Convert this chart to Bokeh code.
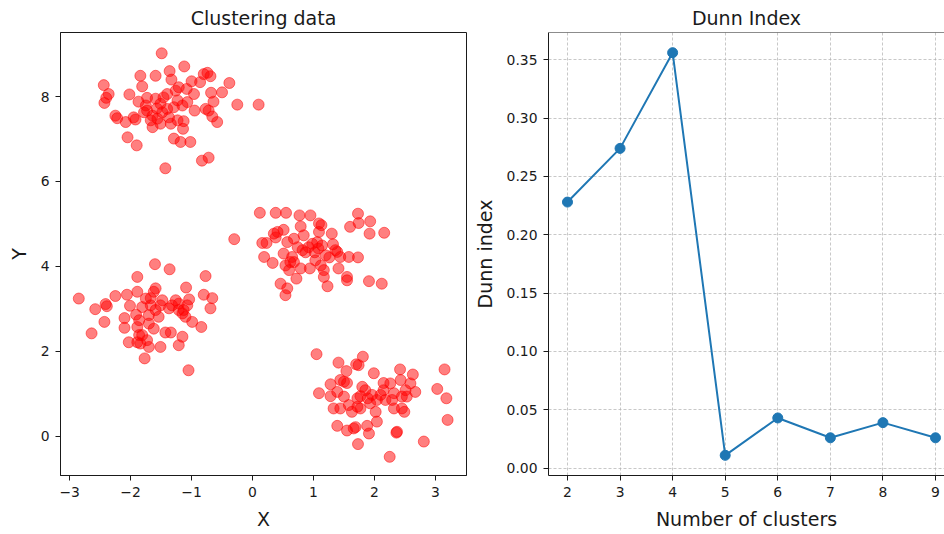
from bokeh.plotting import figure
from bokeh.layouts import row
from bokeh.models import Range1d, FixedTicker, NumeralTickFormatter, Span
from bokeh.embed import file_html
from bokeh.resources import INLINE

# --- scatter data: four blobs ---
blob1_x = [-1.49, -1.84, -1.59, -1.36, -1.33, -2.44, -2.36, -2.40, -2.43, -2.02,
           -1.81, -1.73, -1.59, -1.40, -1.26, -2.25, -2.22, -2.08, -1.95, -1.92,
           -1.75, -1.73, -1.64, -1.67, -1.64, -1.51, -1.48, -1.40, -1.37, -1.34,
           -1.51, -1.78, -1.56, -1.29, -1.18, -2.05, -1.90, -1.43, -1.23, -1.23,
           -1.12, -0.80, -0.74, -0.69, -0.38, -0.25, -0.50, -0.68, -0.64, -0.86,
           -1.00, -1.08, -0.96, -1.07, -1.29, -1.15, -0.95, -0.77, -0.72, -0.66,
           -0.58, -1.13, -1.14, -1.02, -0.83, -0.72, 0.10, -1.21, -1.87, -1.57,
           -1.46]
blob1_y = [9.02, 8.49, 8.49, 8.60, 8.40, 8.27, 8.06, 7.97, 7.85, 8.05,
           8.24, 7.97, 7.95, 8.06, 8.14, 7.55, 7.49, 7.40, 7.51, 7.46,
           7.79, 7.67, 7.55, 7.44, 7.28, 7.83, 7.63, 7.71, 7.51, 7.36,
           7.36, 7.63, 7.48, 7.01, 6.93, 7.04, 6.85, 6.31, 7.44, 7.91,
           8.71, 8.53, 8.56, 8.48, 8.32, 7.81, 8.10, 8.09, 7.88, 8.34,
           8.36, 8.18, 8.06, 7.87, 7.75, 7.79, 7.67, 7.71, 7.67, 7.53,
           7.40, 7.42, 7.24, 6.93, 6.49, 6.56, 7.81, 8.22, 7.88, 7.72,
           7.98]

blob2_x = [0.12, 0.38, 0.55, 0.77, 0.95, -0.30, 0.16, 0.23, 0.35, 0.41,
           0.51, 0.38, 0.79, 0.84, 0.68, 0.57, 0.98, 0.19, 0.33, 0.51,
           0.65, 0.68, 0.62, 0.82, 0.92, 0.54, 0.60, 0.79, 0.94, 0.72,
           0.46, 0.57, 0.54, 1.73, 1.74, 1.93, 1.60, 1.92, 2.16, 1.09,
           1.13, 1.30, 1.09, 1.06, 1.14, 1.32, 1.36, 1.39, 1.26, 1.44,
           1.58, 1.73, 1.03, 1.12, 1.17, 1.41, 1.17, 1.55, 1.55, 1.23,
           1.91, 2.12, 0.87, 0.74, 1.02, 1.08, 1.20]
blob2_y = [5.26, 5.26, 5.26, 5.20, 5.20, 4.64, 4.55, 4.55, 4.77, 4.81,
           4.86, 4.68, 4.94, 4.73, 4.65, 4.57, 4.53, 4.22, 4.08, 4.30,
           4.22, 4.10, 4.10, 4.38, 4.45, 4.02, 3.91, 3.95, 3.95, 3.71,
           3.59, 3.48, 3.32, 5.24, 5.02, 5.06, 4.93, 4.77, 4.79, 5.01,
           4.97, 4.77, 4.81, 4.57, 4.49, 4.52, 4.38, 4.34, 4.21, 4.22,
           4.22, 4.21, 4.14, 4.02, 3.91, 3.95, 3.75, 3.75, 3.67, 3.53,
           3.65, 3.59, 4.33, 4.45, 4.33, 4.42, 4.26]

blob3_x = [-1.89, -2.85, -2.41, -2.39, -2.25, -2.06, -1.89, -2.58, -2.43, -2.64,
           -2.01, -2.10, -2.10, -1.91, -1.89, -1.86, -2.03, -1.89, -1.77, -1.60,
           -1.36, -0.77, -1.09, -1.59, -1.62, -1.75, -1.48, -1.32, -1.21, -1.04,
           -1.07, -0.80, -0.66, -0.69, -1.81, -1.67, -1.59, -1.70, -1.54, -1.37,
           -1.21, -1.15, -1.10, -0.99, -0.84, -1.86, -1.70, -1.62, -1.43, -1.34,
           -1.15, -1.21, -1.81, -1.73, -1.84, -1.70, -1.51, -1.05, -1.51, -1.26,
           -1.13, -1.67]
blob3_y = [3.75, 3.24, 3.11, 3.06, 3.30, 3.33, 3.40, 2.99, 2.69, 2.42,
           3.07, 2.78, 2.55, 2.86, 2.57, 2.38, 2.21, 2.21, 1.83, 4.05,
           3.93, 3.77, 3.50, 3.48, 3.40, 3.24, 3.20, 3.08, 3.12, 3.22,
           3.08, 3.33, 3.25, 3.01, 3.04, 3.08, 2.97, 2.85, 2.81, 3.01,
           2.97, 2.89, 2.81, 2.69, 2.57, 2.73, 2.65, 2.53, 2.44, 2.44,
           2.34, 2.14, 2.38, 2.26, 2.18, 2.10, 2.10, 1.55, 3.08, 3.20,
           2.97, 3.25]

blob4_x = [1.05, 1.41, 1.81, 1.70, 1.74, 1.54, 1.99, 1.28, 1.44, 1.50,
           1.55, 1.09, 1.28, 1.39, 1.50, 1.80, 1.85, 1.96, 1.72, 1.58,
           1.33, 1.44, 1.63, 1.72, 1.77, 1.93, 2.02, 2.04, 1.39, 1.55,
           1.66, 1.69, 1.88, 1.91, 1.73, 2.42, 2.63, 3.15, 3.03, 3.18,
           3.20, 2.15, 2.26, 2.43, 2.59, 2.51, 2.67, 2.32, 2.15, 2.04,
           2.18, 2.29, 2.45, 2.53, 2.32, 2.45, 2.49, 2.37, 2.36, 2.81,
           2.25, 2.10, 1.89, 1.77]
blob4_y = [1.93, 1.73, 1.87, 1.69, 1.67, 1.53, 1.48, 1.22, 1.32, 1.28,
           1.25, 1.01, 0.94, 1.04, 0.93, 1.16, 1.08, 0.97, 0.89, 0.73,
           0.65, 0.65, 0.57, 0.69, 0.65, 0.77, 0.57, 0.34, 0.24, 0.13,
           0.18, 0.21, 0.24, 0.06, -0.19, 1.57, 1.45, 1.57, 1.11, 0.89,
           0.38, 1.25, 1.24, 1.32, 1.24, 1.08, 1.04, 1.01, 1.08, 0.85,
           0.85, 0.85, 0.93, 0.93, 0.65, 0.65, 0.57, 0.10, 0.08, -0.13,
           -0.49, 0.97, 0.89, 0.94]

# --- Dunn index per number of clusters ---
n_clusters = [2, 3, 4, 5, 6, 7, 8, 9]
dunn_index = [0.228, 0.274, 0.356, 0.011, 0.043, 0.026, 0.039, 0.026]

x_ticks = [-3, -2, -1, 0, 1, 2, 3]
y_ticks = [0, 2, 4, 6, 8]
dunn_ticks = [0.0, 0.05, 0.10, 0.15, 0.20, 0.25, 0.30, 0.35]

FONT = "DejaVu Sans"
INK = "#1a1a1a"
BIG = "19px"
SMALL = "13.9px"


def style_title(p):
    p.title.align = "center"
    p.title.text_font = FONT
    p.title.text_font_size = BIG
    p.title.text_font_style = "normal"
    p.title.text_color = INK
    p.title.standoff = 8


def style_axis(ax, label):
    ax.axis_label = label
    ax.axis_label_text_font = FONT
    ax.axis_label_text_font_size = BIG
    ax.axis_label_text_font_style = "normal"
    ax.axis_label_text_color = INK
    ax.major_label_text_font = FONT
    ax.major_label_text_font_size = SMALL
    ax.major_label_text_color = INK
    ax.axis_line_color = INK
    ax.axis_line_width = 1
    ax.major_tick_line_color = INK
    ax.major_tick_out = 5
    ax.major_tick_in = 0
    ax.minor_tick_line_color = None
    ax.major_label_standoff = 6
    ax.axis_label_standoff = 8


# --- left panel: scatter of the data ---
all_x = blob1_x + blob2_x + blob3_x + blob4_x
all_y = blob1_y + blob2_y + blob3_y + blob4_y

p1 = figure(width=470, height=534, output_backend="svg", toolbar_location=None,
            title="Clustering data",
            x_range=Range1d(-3.15, 3.51), y_range=Range1d(-0.93, 9.51),
            min_border_left=60, min_border_right=4,
            min_border_top=32, min_border_bottom=59)
style_title(p1)
p1.outline_line_color = INK
p1.outline_line_width = 1
p1.xgrid.visible = False
p1.ygrid.visible = False
p1.background_fill_color = "white"
p1.border_fill_color = "white"

p1.scatter(all_x, all_y, size=11, marker="circle",
           fill_color="red", fill_alpha=0.5,
           line_color="red", line_alpha=0.5, line_width=1)

style_axis(p1.xaxis[0], "X")
style_axis(p1.yaxis[0], "Y")
p1.xaxis.ticker = FixedTicker(ticks=x_ticks)
p1.yaxis.ticker = FixedTicker(ticks=y_ticks)
p1.xaxis.major_label_overrides = {t: (str(t) if t >= 0 else "\u2212" + str(-t)) for t in x_ticks}

# --- right panel: Dunn index curve ---
p2 = figure(width=474, height=534, output_backend="svg", toolbar_location=None,
            title="Dunn Index",
            x_range=Range1d(1.639, 9.171), y_range=Range1d(-0.0063, 0.3733),
            min_border_left=78, min_border_right=0,
            min_border_top=32, min_border_bottom=59)
style_title(p2)
p2.outline_line_color = None
p2.background_fill_color = "white"
p2.border_fill_color = "white"

style_axis(p2.xaxis[0], "Number of clusters")
style_axis(p2.yaxis[0], "Dunn index")
p2.xaxis.ticker = FixedTicker(ticks=n_clusters)
p2.yaxis.ticker = FixedTicker(ticks=dunn_ticks)
p2.yaxis.formatter = NumeralTickFormatter(format="0.00")

for g in (p2.xgrid[0], p2.ygrid[0]):
    g.grid_line_color = "#b0b0b0"
    g.grid_line_width = 0.7
    g.grid_line_dash = "3 2"

# top border of the frame
p2.add_layout(Span(location=0.3733, dimension="width", line_color=INK, line_width=1))

p2.line(n_clusters, dunn_index, line_color="#1f77b4", line_width=2)
p2.scatter(n_clusters, dunn_index, marker="circle", size=10,
           fill_color="#1f77b4", line_color="#1f77b4")

layout = row(p1, p2)
open("out.html", "w").write(file_html(layout, INLINE))
